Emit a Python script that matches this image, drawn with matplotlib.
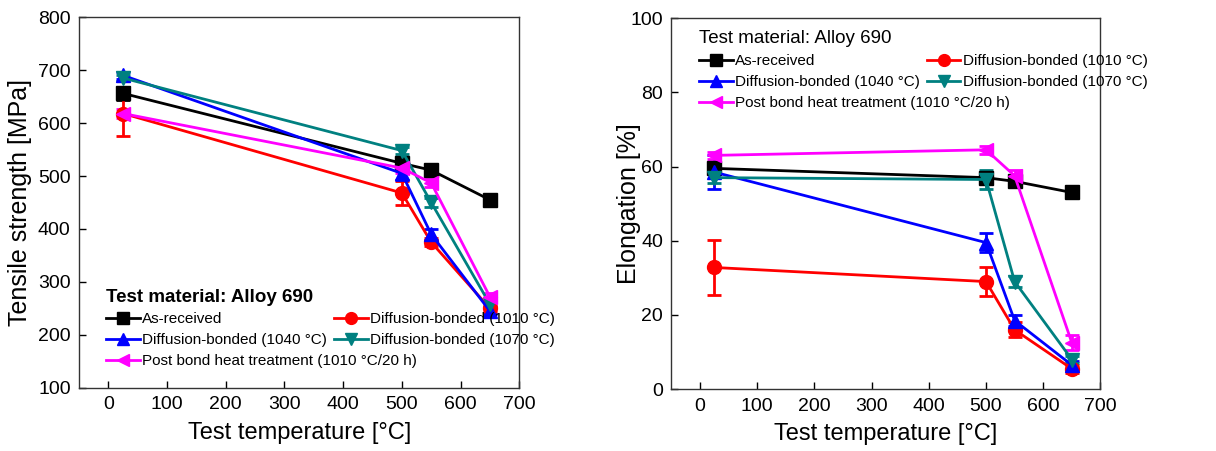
import matplotlib
matplotlib.use("Agg")
import matplotlib.pyplot as plt

plt.rcParams['font.family'] = ['Liberation Sans', 'DejaVu Sans']

temps = [25, 500, 550, 650]

labels = ["As-received",
          "Diffusion-bonded (1010 °C)",
          "Diffusion-bonded (1040 °C)",
          "Diffusion-bonded (1070 °C)",
          "Post bond heat treatment (1010 °C/20 h)"]
colors = ["black", "#ff0000", "#0000ff", "#008080", "#ff00ff"]
markers = ["s", "o", "^", "v", "<"]

# tensile strength [MPa]
uts_asrec = [656, 524, 511, 455]
uts_1010 = [618, 468, 375, 250]
uts_1040 = [690, 505, 390, 245]
uts_1070 = [685, 548, 450, 258]
uts_pbht = [618, 515, 487, 272]
uts_err_asrec = [12, 6, 6, 8]
uts_err_1010 = [42, 22, 8, 6]
uts_err_1040 = [6, 12, 10, 6]
uts_err_1070 = [6, 6, 8, 6]
uts_err_pbht = [8, 10, 8, 8]

# elongation [%]
el_asrec = [59.5, 57.0, 56.0, 53.0]
el_1010 = [32.8, 29.0, 16.0, 5.5]
el_1040 = [58.5, 39.5, 18.5, 6.5]
el_1070 = [57.0, 56.5, 29.0, 8.0]
el_pbht = [63.0, 64.5, 57.5, 12.5]
el_err_asrec = [1.0, 1.5, 1.0, 1.0]
el_err_1010 = [7.5, 4.0, 2.0, 1.0]
el_err_1040 = [4.5, 2.5, 1.5, 1.0]
el_err_1070 = [1.5, 2.5, 1.5, 1.0]
el_err_pbht = [1.0, 1.0, 1.5, 2.0]

uts = [uts_asrec, uts_1010, uts_1040, uts_1070, uts_pbht]
uts_err = [uts_err_asrec, uts_err_1010, uts_err_1040, uts_err_1070, uts_err_pbht]
el = [el_asrec, el_1010, el_1040, el_1070, el_pbht]
el_err = [el_err_asrec, el_err_1010, el_err_1040, el_err_1070, el_err_pbht]


def draw(ax, data, errs):
    handles = []
    for y, e, c, m, lab in zip(data, errs, colors, markers, labels):
        h = ax.errorbar(temps, y, yerr=e, color=c, marker=m, markersize=10,
                        linewidth=2, elinewidth=2, capsize=5, capthick=2,
                        label=lab)
        handles.append(h.lines[0])
    ax.set_xlim(-50, 700)
    ax.set_xticks(range(0, 701, 100))
    ax.tick_params(direction='in', length=5, width=1, labelsize=14, pad=6)
    for s in ax.spines.values():
        s.set_linewidth(1)
        s.set_color("#333333")
    ax.set_xlabel("Test temperature [°C]", fontsize=17, labelpad=6)
    return handles


def add_legends(ax, handles, anchor_top, anchor_pbht, title_weight):
    order = [0, 2, 1, 3]
    kw = dict(frameon=False, fontsize=11, handlelength=2.2, handletextpad=0.15,
              borderaxespad=0, borderpad=0, markerscale=0.85)
    leg = ax.legend([handles[i] for i in order], [labels[i] for i in order],
                    ncol=2, loc='upper left', bbox_to_anchor=anchor_top,
                    columnspacing=0.45, labelspacing=0.45,
                    title="Test material: Alloy 690",
                    title_fontproperties={'weight': title_weight, 'size': 13.5},
                    **kw)
    leg._legend_box.align = "left"
    ax.add_artist(leg)
    ax.legend([handles[4]], [labels[4]], loc='upper left',
              bbox_to_anchor=anchor_pbht, **kw)


fig = plt.figure(figsize=(12.16, 4.51), dpi=100)
ax1 = fig.add_axes([0.065, 0.140, 0.362, 0.822])
ax2 = fig.add_axes([0.552, 0.137, 0.353, 0.823])

h1 = draw(ax1, uts, uts_err)
ax1.set_ylim(100, 800)
ax1.set_ylabel("Tensile strength [MPa]", fontsize=18, labelpad=4)
add_legends(ax1, h1, (0.062, 0.268), (0.062, 0.09), 'bold')

h2 = draw(ax2, el, el_err)
ax2.set_ylim(0, 100)
ax2.set_ylabel("Elongation [%]", fontsize=18, labelpad=-8)
add_legends(ax2, h2, (0.065, 0.967), (0.065, 0.79), 'normal')

fig.savefig("out.png", dpi=100)
